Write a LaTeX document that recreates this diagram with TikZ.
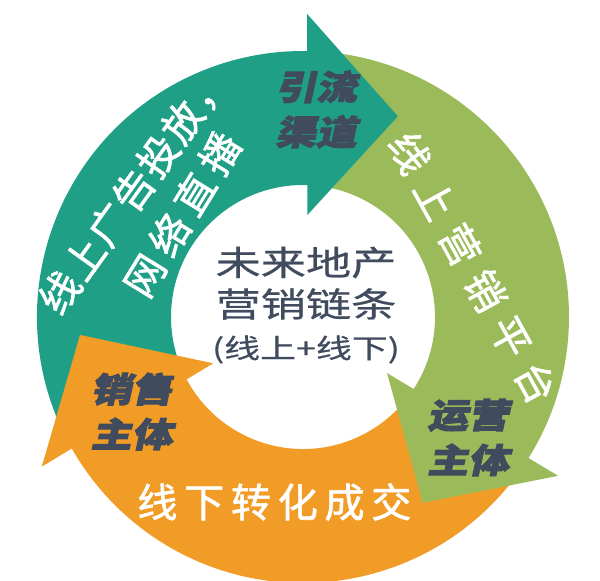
\documentclass[tikz,border=0pt]{standalone}
\usepackage{fontspec}
\usetikzlibrary{positioning}

\newfontfamily\cjkring{Noto Sans CJK SC}[FakeBold=1.5]
\newfontfamily\cjkwide{Noto Sans CJK SC}[FakeStretch=1.33, FakeBold=0.6]
\newfontfamily\cjkhead{Noto Sans CJK SC}[FakeSlant=0.22, FakeStretch=1.2, FakeBold=3]

\definecolor{chainteal}{RGB}{31,160,134}
\definecolor{chaingreen}{RGB}{155,187,91}
\definecolor{chainorange}{RGB}{242,156,40}
\definecolor{chainslate}{RGB}{64,75,94}

\begin{document}
\begin{tikzpicture}[x=1pt, y=1pt, on grid,
    ringtext/.style = {text=white, inner sep=0pt, font=\cjkring\fontsize{40}{40}\selectfont},
    headtext/.style = {text=chainslate, inner sep=0pt, align=center, font=\cjkhead\bfseries\fontsize{34}{45}\selectfont},
    hubtext/.style = {text=chainslate, inner sep=0pt, font=\cjkwide\fontsize{34}{34}\selectfont}]

    \useasboundingbox (-303,-264) rectangle (297,317);

    % Ring
    \foreach \from/\to/\col in {206/86.5/chainteal, 86.5/-35/chaingreen, -35/-154/chainorange}
        \fill[\col] (\from:266) arc[start angle=\from, end angle=\to, radius=266pt]
            -- (\to:132) arc[start angle=\to, end angle=\from, radius=132pt] -- cycle;

    % Heads
    \foreach \ia/\irad/\oa/\orad/\ta/\trad/\col in {87.6/102/89.2/303/64.7/222/chainteal,
            -33.7/101/-31.9/300.5/-57.2/221/chaingreen,
            207.3/101/209.8/301/184.6/223.7/chainorange}
        \fill[\col] (\ia:\irad) -- (\oa:\orad) -- (\ta:\trad) -- cycle;

    % Labels on the heads
    \node[headtext] (channel) at (13,207.5) {引流\\渠道};
    \node[headtext] (operator) at (165,-120.5) {运营\\主体};
    \node[headtext] (seller) at (-171.5,-94.5) {销售\\主体};

    % Texts along the ring
    \node[ringtext, rotate=54.3] (ads) at (-169.2,126.6) {\addfontfeature{LetterSpace=5}线上广告投放，};
    \node[ringtext, rotate=58.4] (live) at (-121,102.7) {\addfontfeature{LetterSpace=19.5}网络直播};
    \node[ringtext, rotate=-61.2] (online) at (169.9,49.2) {\addfontfeature{LetterSpace=31}线上营销平台};
    \node[ringtext] (offline) at (-28.6,-185) {\addfontfeature{LetterSpace=17}线下转化成交};

    % Hub
    \node[hubtext] (hubA) at (3,54.5) {未来地产};
    \node[hubtext] (hubB) [below=41.5pt of hubA] {营销链条};
    \node[hubtext, font=\cjkwide\fontsize{27}{27}\selectfont] (hubC) [below=45.5pt of hubB] {(线上+线下)};
\end{tikzpicture}
\end{document}
